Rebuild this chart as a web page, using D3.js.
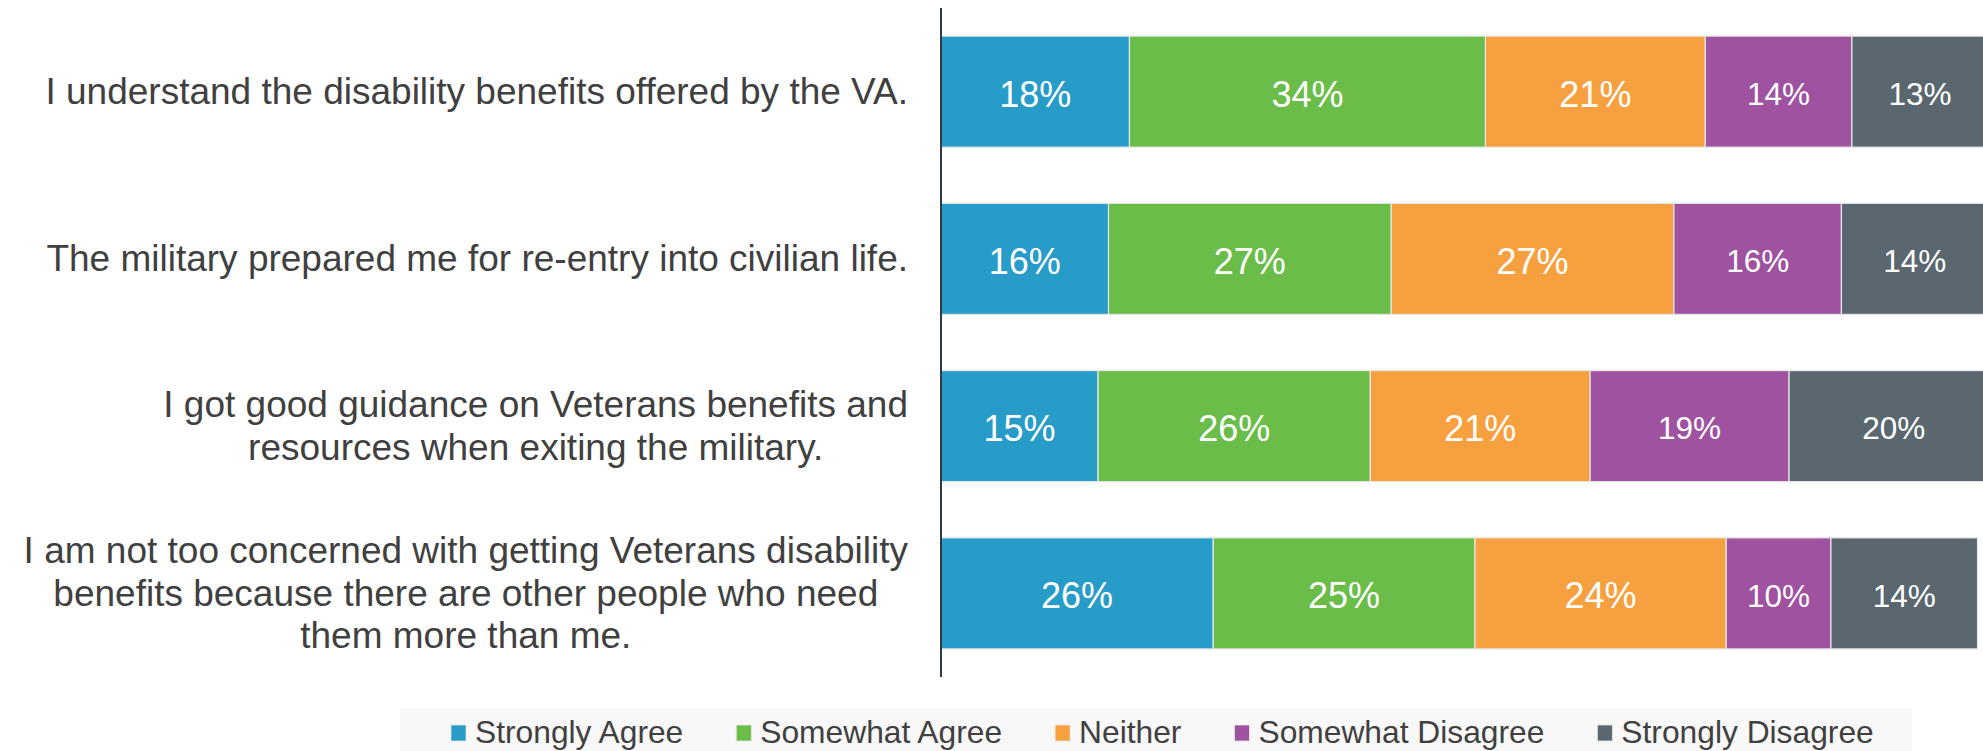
<!DOCTYPE html>
<html>
<head>
<meta charset="utf-8">
<script src="https://cdn.jsdelivr.net/npm/d3@7"></script>
<style>
  html, body { margin: 0; padding: 0; background: #ffffff; }
  svg { display: block; font-family: "Liberation Sans", Arial, sans-serif; }
</style>
</head>
<body>
<svg id="chart" width="1983" height="751"></svg>
<script>
// Survey statements, one bar each (top to bottom)
const statements = [
  ["I understand the disability benefits offered by the VA."],
  ["The military prepared me for re-entry into civilian life."],
  ["I got good guidance on Veterans benefits and", "resources when exiting the military."],
  ["I am not too concerned with getting Veterans disability", "benefits because there are other people who need", "them more than me."]
];
const responses = ["Strongly Agree", "Somewhat Agree", "Neither", "Somewhat Disagree", "Strongly Disagree"];
const colors = ["#289cc8", "#6abd48", "#f7a040", "#9e52a0", "#5a676f"];

// Percent of respondents per response, one array per response, in statement order
const stronglyAgree    = [18, 16, 15, 26];
const somewhatAgree    = [34, 27, 26, 25];
const neither          = [21, 27, 21, 24];
const somewhatDisagree = [14, 16, 19, 10];
const stronglyDisagree = [13, 14, 20, 14];

const seriesValues = [stronglyAgree, somewhatAgree, neither, somewhatDisagree, stronglyDisagree];

const rows = statements.map((s, i) => {
  const r = { id: i };
  responses.forEach((k, j) => { r[k] = seriesValues[j][i]; });
  return r;
});

const svg = d3.select("#chart");

const x = d3.scaleLinear().domain([0, 100]).range([941, 1988]);
const y = d3.scaleBand()
  .domain(d3.range(statements.length))
  .range([8, 677])
  .paddingInner(0.336)
  .paddingOuter(0.168);

const stacked = d3.stack().keys(responses)(rows);

const layer = svg.append("g").selectAll("g")
  .data(stacked)
  .join("g")
  .attr("fill", (d, i) => colors[i]);

layer.selectAll("rect")
  .data(d => d)
  .join("rect")
  .attr("x", d => x(d[0]))
  .attr("y", (d, i) => y(i))
  .attr("width", d => x(d[1]) - x(d[0]))
  .attr("height", y.bandwidth())
  .attr("stroke", "#e6e6e6")
  .attr("stroke-width", 1.2);

// Percentage labels centered in each segment
layer.each(function (s, si) {
  d3.select(this).selectAll("text")
    .data(s)
    .join("text")
    .attr("x", d => (x(d[0]) + x(d[1])) / 2)
    .attr("y", (d, i) => y(i) + y.bandwidth() / 2)
    .attr("dy", "0.42em")
    .attr("text-anchor", "middle")
    .attr("fill", "#ffffff")
    .attr("font-size", si >= 3 ? 31.5 : 36)
    .text(d => (d[1] - d[0]) + "%");
});

// Category axis line
svg.append("line")
  .attr("x1", 941).attr("x2", 941)
  .attr("y1", 8).attr("y2", 677)
  .attr("stroke", "#2f3a44")
  .attr("stroke-width", 2);

// Statement labels: wrapped lines centered within a block right-aligned to the axis
const labelRight = 908;
const lineH = 42.5;
const catFont = 37;
statements.forEach((lines, i) => {
  const g = svg.append("g");
  const cy = y(i) + y.bandwidth() / 2;
  const texts = lines.map((ln, k) =>
    g.append("text")
      .attr("font-size", catFont)
      .attr("fill", "#404040")
      .attr("text-anchor", "middle")
      .attr("y", cy + (k - (lines.length - 1) / 2) * lineH + catFont * 0.34)
      .text(ln)
  );
  const maxW = d3.max(texts, t => t.node().getComputedTextLength());
  texts.forEach(t => t.attr("x", labelRight - maxW / 2));
});

// Legend
svg.append("rect")
  .attr("x", 400).attr("y", 708)
  .attr("width", 1512).attr("height", 43)
  .attr("fill", "#f8f8f8");

const legend = svg.append("g");
let lx = 451;
responses.forEach((name, i) => {
  legend.append("rect")
    .attr("x", lx).attr("y", 725)
    .attr("width", 15).attr("height", 16)
    .attr("fill", colors[i])
    .attr("stroke", "#e6e6e6")
    .attr("stroke-width", 0.8);
  const t = legend.append("text")
    .attr("x", lx + 24).attr("y", 743)
    .attr("font-size", 31.75)
    .attr("fill", "#404040")
    .text(name);
  lx += 24 + t.node().getComputedTextLength() + 53;
});
</script>
</body>
</html>
